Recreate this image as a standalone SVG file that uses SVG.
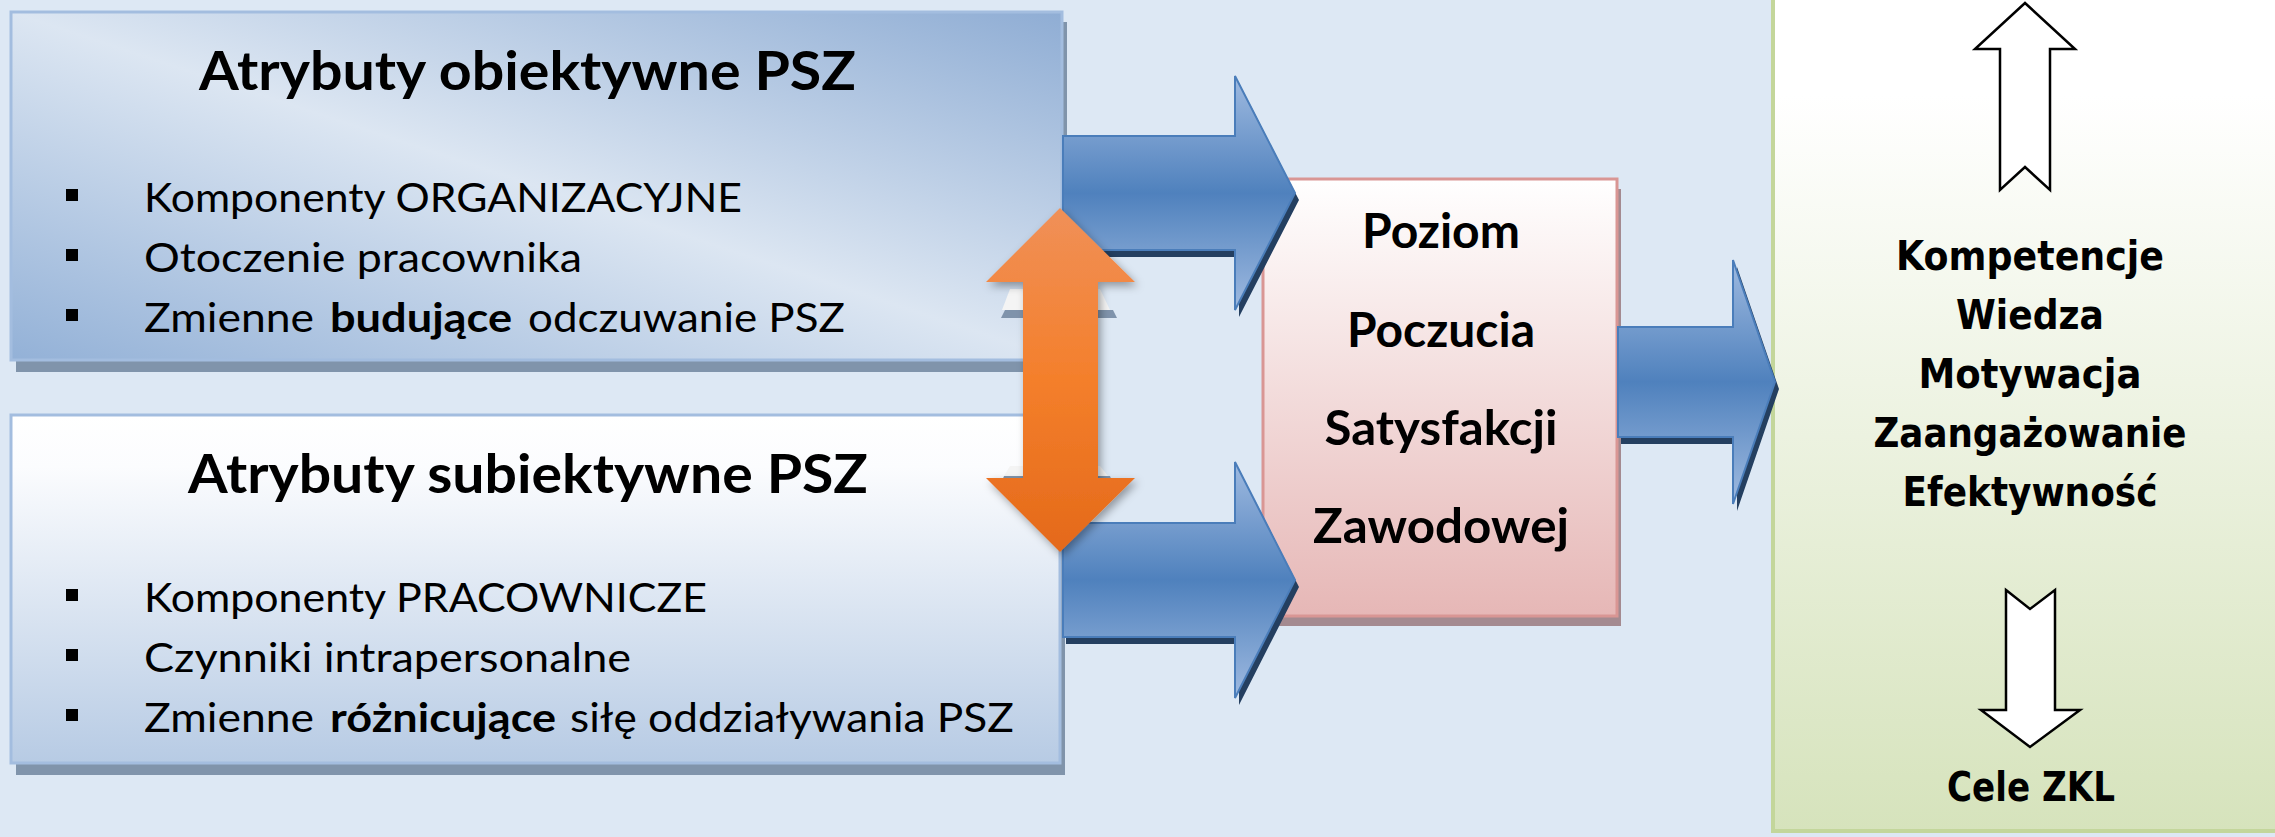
<svg xmlns="http://www.w3.org/2000/svg" width="2275" height="837" viewBox="0 0 2275 837">
<defs>
<linearGradient id="gBox1" x1="1" y1="0" x2="0" y2="1">
<stop offset="0" stop-color="#8fadd4"/><stop offset="0.5" stop-color="#dce6f2"/><stop offset="1" stop-color="#93b1d7"/>
</linearGradient>
<linearGradient id="gBox2" x1="0" y1="0" x2="0" y2="1">
<stop offset="0" stop-color="#ffffff"/><stop offset="0.15" stop-color="#fbfcfe"/><stop offset="1" stop-color="#b7cbe4"/>
</linearGradient>
<linearGradient id="gPink" x1="0" y1="0" x2="0" y2="1">
<stop offset="0" stop-color="#ffffff"/><stop offset="1" stop-color="#e6b7b6"/>
</linearGradient>
<linearGradient id="gGreen" x1="0" y1="0" x2="0" y2="1">
<stop offset="0" stop-color="#ffffff"/><stop offset="0.12" stop-color="#ffffff"/><stop offset="1" stop-color="#d6e3bc"/>
</linearGradient>
<linearGradient id="gBlue" x1="0" y1="0" x2="0" y2="1">
<stop offset="0" stop-color="#9fbae0"/><stop offset="0.5" stop-color="#4f81bd"/><stop offset="1" stop-color="#9fbae0"/>
</linearGradient>
<linearGradient id="gOrange" x1="0" y1="0" x2="0" y2="1">
<stop offset="0" stop-color="#f09058"/><stop offset="0.5" stop-color="#f47f2b"/><stop offset="1" stop-color="#e4691a"/>
</linearGradient>
<filter id="soft" x="-20%" y="-20%" width="140%" height="140%">
<feDropShadow dx="3" dy="4" stdDeviation="4" flood-color="#000" flood-opacity="0.35"/>
</filter>
<style>
.t{font-family:Lato,"Liberation Sans",sans-serif;fill:#000}
.title{font-weight:bold;font-size:54px}
.bul{font-size:40px}
.b{font-weight:bold}
.pk{font-family:Lato,"Liberation Sans",sans-serif;font-weight:bold;font-size:47px;fill:#000}
.gr{font-family:"DejaVu Sans",Verdana,sans-serif;font-weight:bold;font-size:41px;fill:#000}
.sq{fill:#000}
.arrowB{fill:url(#gBlue);stroke:#4a7dba;stroke-width:2}
.arrowSh{fill:#243f60}
.wa{fill:#fff;stroke:#000;stroke-width:2.5;stroke-linejoin:miter}
</style>
</defs>
<rect x="0" y="0" width="2275" height="837" fill="#dde8f4"/>

<g id="green-panel">
<rect x="1773" y="-5" width="510" height="836" fill="url(#gGreen)" stroke="#c3d69b" stroke-width="4"/>
<polygon class="wa" points="2025,3 2075,49 2050,49 2050,190 2025,167 2000,190 2000,49 1975,49"/>
<polygon class="wa" points="2006,590 2030,609 2055,590 2055,710 2080,710 2030,747 1981,710 2006,710"/>
<text class="gr" x="2030" y="270" text-anchor="middle" textLength="268" lengthAdjust="spacingAndGlyphs">Kompetencje</text>
<text class="gr" x="2030" y="329" text-anchor="middle" textLength="148" lengthAdjust="spacingAndGlyphs">Wiedza</text>
<text class="gr" x="2030" y="388" text-anchor="middle" textLength="223" lengthAdjust="spacingAndGlyphs">Motywacja</text>
<text class="gr" x="2030" y="447" text-anchor="middle" textLength="313" lengthAdjust="spacingAndGlyphs">Zaangażowanie</text>
<text class="gr" x="2030" y="506" text-anchor="middle" textLength="255" lengthAdjust="spacingAndGlyphs">Efektywność</text>
<text class="gr" x="2031" y="801" text-anchor="middle" textLength="168" lengthAdjust="spacingAndGlyphs">Cele ZKL</text>
</g>

<g id="pink-box">
<rect x="1267" y="189" width="354" height="437" fill="#a48a90"/>
<rect x="1263" y="179" width="354" height="437" fill="url(#gPink)" stroke="#d99694" stroke-width="3"/>
<text class="pk" x="1441" y="248" text-anchor="middle" textLength="158" lengthAdjust="spacingAndGlyphs">Poziom</text>
<text class="pk" x="1441" y="347" text-anchor="middle" textLength="188" lengthAdjust="spacingAndGlyphs">Poczucia</text>
<text class="pk" x="1441" y="445" text-anchor="middle" textLength="233" lengthAdjust="spacingAndGlyphs">Satysfakcji</text>
<text class="pk" x="1441" y="543" text-anchor="middle" textLength="256" lengthAdjust="spacingAndGlyphs">Zawodowej</text>
</g>

<g id="box-objective">
<rect x="16" y="22" width="1051" height="350" fill="#8094ab"/>
<rect x="11" y="12" width="1051" height="348" fill="url(#gBox1)" stroke="#a3bddf" stroke-width="3"/>
<text class="t title" x="199" y="90" textLength="657" lengthAdjust="spacingAndGlyphs">Atrybuty obiektywne PSZ</text>
<rect class="sq" x="66" y="189" width="12" height="12"/>
<rect class="sq" x="66" y="249" width="12" height="12"/>
<rect class="sq" x="66" y="309" width="12" height="12"/>
<text class="t bul" x="144" y="212" textLength="598" lengthAdjust="spacingAndGlyphs">Komponenty ORGANIZACYJNE</text>
<text class="t bul" x="144" y="272" textLength="438" lengthAdjust="spacingAndGlyphs">Otoczenie pracownika</text>
<text class="t bul" x="144" y="332" textLength="170" lengthAdjust="spacingAndGlyphs">Zmienne</text>
<text class="t bul b" x="330" y="332" textLength="182" lengthAdjust="spacingAndGlyphs">budujące</text>
<text class="t bul" x="528" y="332" textLength="317" lengthAdjust="spacingAndGlyphs">odczuwanie PSZ</text>
</g>

<g id="box-subjective">
<rect x="16" y="425" width="1049" height="350" fill="#8094ab"/>
<rect x="11" y="415" width="1049" height="348" fill="url(#gBox2)" stroke="#a3bddf" stroke-width="3"/>
<text class="t title" x="188" y="493" textLength="680" lengthAdjust="spacingAndGlyphs">Atrybuty subiektywne PSZ</text>
<rect class="sq" x="66" y="589" width="12" height="12"/>
<rect class="sq" x="66" y="649" width="12" height="12"/>
<rect class="sq" x="66" y="709" width="12" height="12"/>
<text class="t bul" x="144" y="612" textLength="563" lengthAdjust="spacingAndGlyphs">Komponenty PRACOWNICZE</text>
<text class="t bul" x="144" y="672" textLength="487" lengthAdjust="spacingAndGlyphs">Czynniki intrapersonalne</text>
<text class="t bul" x="144" y="732" textLength="170" lengthAdjust="spacingAndGlyphs">Zmienne</text>
<text class="t bul b" x="330" y="732" textLength="226" lengthAdjust="spacingAndGlyphs">różnicujące</text>
<text class="t bul" x="570" y="732" textLength="444" lengthAdjust="spacingAndGlyphs">siłę oddziaływania PSZ</text>
</g>

<g id="connectors">
<polygon class="arrowSh" points="1066,143 1239,143 1239,83 1299,200 1239,317 1239,257 1066,257"/>
<polygon class="arrowB" points="1063,136 1235,136 1235,76 1295,193 1235,310 1235,250 1063,250"/>
<polygon class="arrowSh" points="1066,530 1239,530 1239,469 1299,587 1239,705 1239,644 1066,644"/>
<polygon class="arrowB" points="1063,523 1235,523 1235,462 1295,580 1235,698 1235,637 1063,637"/>
<polygon class="arrowSh" points="1621,334 1737,334 1737,267 1779,389 1737,511 1737,444 1621,444"/>
<polygon class="arrowB" points="1618,327 1733,327 1733,260 1775,382 1733,504 1733,437 1618,437"/>
<polygon points="1010,289 1100,289 1110,310 1002,310" fill="#f4f4f4"/>
<polygon points="1005,310 1113,310 1117,318 1001,318" fill="#7f93ab"/>
<polygon points="1010,466 1100,466 1108,476 1004,476" fill="#f4f4f4"/>
<polygon points="1004,476 1110,476 1112,481 1002,481" fill="#7f93ab"/>
<polygon filter="url(#soft)" fill="url(#gOrange)" points="1060,208 1135,282 1098,282 1098,478 1135,478 1060,552 986,478 1023,478 1023,282 986,282"/>
</g>
</svg>
